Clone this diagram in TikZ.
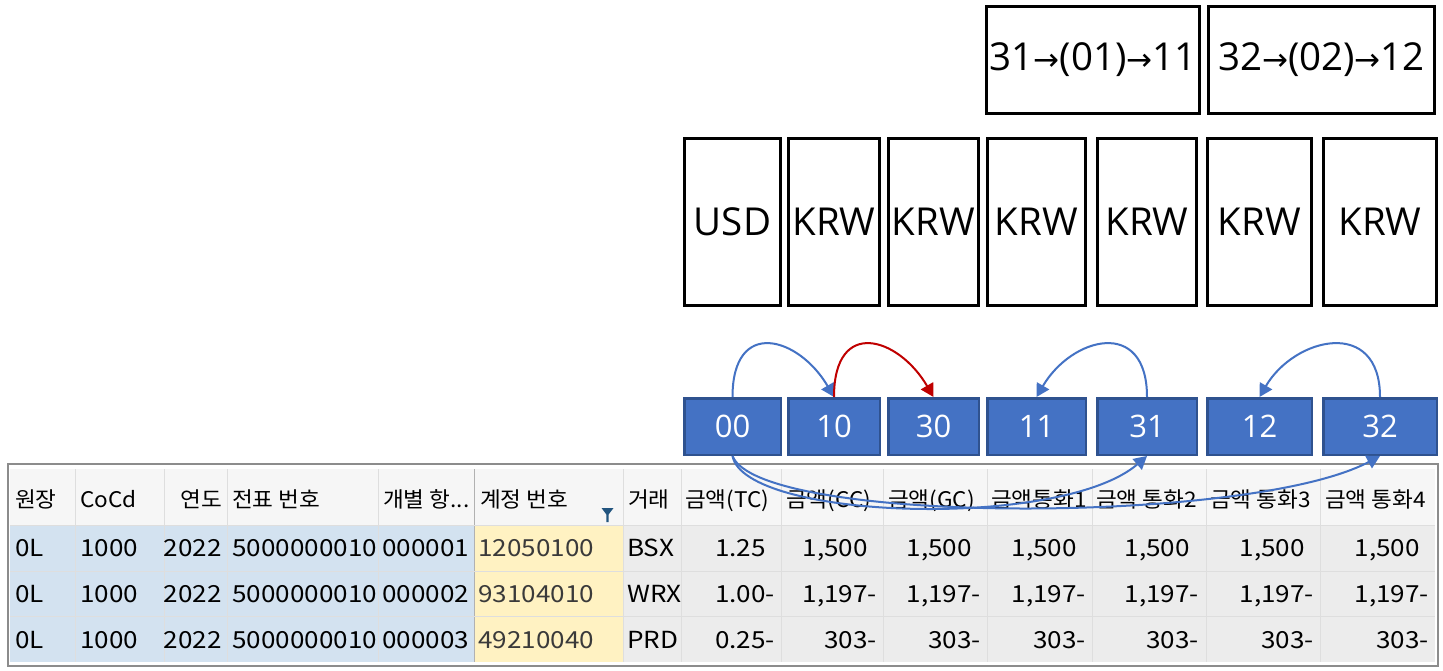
\documentclass[tikz,border=0pt]{standalone}
\usepackage{fontspec}
\setmainfont{Open Sans}
\newfontfamily\kr[FakeStretch=1.05]{Noto Sans CJK KR}
\newfontfamily\krw[FakeStretch=1.11]{Noto Sans CJK KR}
\newfontfamily\arrf{DejaVu Sans}
\usetikzlibrary{arrows.meta}
\definecolor{bfill}{HTML}{4472C4}
\definecolor{bdraw}{HTML}{2F528F}
\definecolor{redarc}{HTML}{C00000}
\definecolor{hdrbg}{HTML}{F6F6F6}
\definecolor{cellbg}{HTML}{ECECEC}
\definecolor{keybg}{HTML}{D3E2F0}
\definecolor{accbg}{HTML}{FFF2C2}
\definecolor{gridc}{HTML}{DEDEDE}
\definecolor{tblborder}{HTML}{8C8C8C}
\definecolor{funnelc}{HTML}{22557F}
\definecolor{acctext}{HTML}{3A3A3A}
\newcommand\rarr{{\arrf\fontsize{31}{31}\selectfont →}}
\newcommand\threedots{...}
\tikzset{
  curbox/.style={draw=black, line width=3pt, fill=white, inner sep=0pt,
    font=\fontsize{38.5}{44}\selectfont},
  codebox/.style={draw=bdraw, line width=2.5pt, fill=bfill, inner sep=0pt,
    text=white, font=\fontsize{31}{36}\selectfont},
  hdr/.style={inner sep=0pt, font=\kr\fontsize{21.5}{26}\selectfont},
  cell/.style={inner sep=0pt, font=\krw\fontsize{23.5}{27}\selectfont},
  conn/.style={draw=bfill, line width=2pt, -{Triangle[length=13pt,width=14pt]}},
  redconn/.style={draw=redarc, line width=2pt, -{Triangle[length=13pt,width=14pt]}},
}
\newcommand\tblrow[7]{%
  \node[cell, anchor=base west] (r#1c1) at (15,#2) {0L};
  \node[cell, anchor=base west] (r#1c2) at (80,#2) {1000};
  \node[cell, anchor=base east] (r#1c3) at (222,#2) {2022};
  \node[cell, anchor=base west] (r#1c4) at (232,#2) {5000000010};
  \node[cell, anchor=base west] (r#1c5) at (382,#2) {#3};
  \node[cell, anchor=base west, text=acctext] (r#1c6) at (478,#2) {#4};
  \node[cell, anchor=base west] (r#1c7) at (627,#2) {#5};
  \node[cell, anchor=base east] (r#1c8) at (775,#2) {#6};
  \node[cell, anchor=base east] (r#1c9) at (877,#2) {#7};
  \node[cell, anchor=base east] (r#1c10) at (981,#2) {#7};
  \node[cell, anchor=base east] (r#1c11) at (1086,#2) {#7};
  \node[cell, anchor=base east] (r#1c12) at (1199,#2) {#7};
  \node[cell, anchor=base east] (r#1c13) at (1314,#2) {#7};
  \node[cell, anchor=base east] (r#1c14) at (1429,#2) {#7};
}
\begin{document}
\begin{tikzpicture}[x=1pt,y=-1pt]
\useasboundingbox[fill=white] (0,0) rectangle (1443,671);

% top boxes
\node[curbox, minimum width=213pt, minimum height=107pt] (t1) at (1093,60) {31\rarr(01)\rarr11};
\node[curbox, minimum width=226pt, minimum height=107pt] (t2) at (1321.5,60) {32\rarr(02)\rarr12};

% currency boxes and code boxes
\foreach \n/\a/\b/\c/\t in {1/683/782/00/USD, 2/787/881/10/KRW, 3/887/980/30/KRW, 4/986/1087/11/KRW, 5/1096/1198/31/KRW, 6/1206/1313/12/KRW, 7/1322/1438/32/KRW}{
  \node[curbox, minimum width=\b-\a-3, minimum height=167pt] (c\n) at ({(\a+\b)/2},222) {\t};
  \node[codebox, minimum width=\b-\a-2.5, minimum height=56.5pt] (b\c) at ({(\a+\b)/2},426.5) {\c};
}

% table
\fill[hdrbg] (10,469) rectangle (1435,525);
\fill[keybg] (10,525) rectangle (474,662);
\fill[accbg] (474,525) rectangle (623,662);
\fill[cellbg] (623,525) rectangle (1435,662);
\foreach \x in {75,164,227,378,623,681,781,883,987,1092,1206,1320}{
  \draw[gridc, line width=1pt] (\x,469) -- (\x,662);
}
\draw[gridc!80!black, line width=1pt] (474,469) -- (474,662);
\foreach \y in {525,571,616}{
  \draw[gridc, line width=1pt] (10,\y) -- (1435,\y);
}
\draw[tblborder, line width=2.5pt] (8,464) rectangle (1438,666);

% filter icon
\fill[funnelc] (601.5,508) -- (613.5,508) -- (608.6,514.5) -- (608.6,522) -- (606.4,522) -- (606.4,514.5) -- cycle;

% header texts
\foreach \i/\an/\x/\t in {1/west/15/원장, 2/west/80/CoCd, 3/east/222/연도, 4/west/232/전표 번호, 5/west/383/개별 항\threedots, 6/west/480/계정 번호, 7/west/628/거래, 8/west/685/금액(TC), 9/west/786/금액(CC), 10/west/888/금액(GC), 11/west/991/금액통화1, 12/west/1096/금액 통화2, 13/west/1210/금액 통화3, 14/west/1325/금액 통화4}{
  \node[hdr, anchor=base \an] (h\i) at (\x,507) {\t};
}

% rows
\tblrow{1}{556}{000001}{12050100}{BSX}{1.25\phantom{-}}{1,500\phantom{-}}
\tblrow{2}{602}{000002}{93104010}{WRX}{1.00-}{1,197-}
\tblrow{3}{648}{000003}{49210040}{PRD}{0.25-}{303-}

% connectors above
\draw[conn] (b00.north) .. controls +(0,-80) and +(-35,-60) .. (b10.north);
\draw[redconn] (b10.north) .. controls +(0,-80) and +(-35,-60) .. (b30.north);
\draw[conn] (b31.north) .. controls +(0,-80) and +(35,-60) .. (b11.north);
\draw[conn] (b32.north) .. controls +(0,-80) and +(35,-60) .. (b12.north);

% connectors below
\draw[conn] (b00.south) .. controls +(12,64) and +(-86,74) .. (b31.south);
\draw[conn] (b00.south) .. controls +(27,69) and +(-130,69) .. (b32.south);
\end{tikzpicture}
\end{document}
